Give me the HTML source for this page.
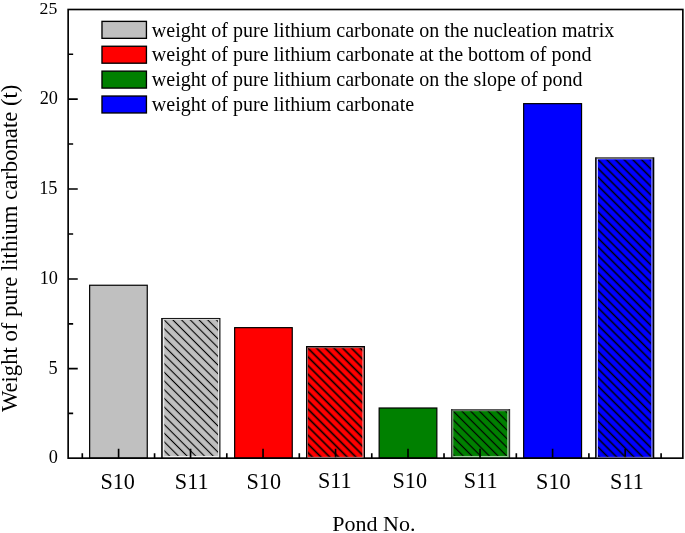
<!DOCTYPE html>
<html lang="en"><head><meta charset="utf-8"><title>Weight of pure lithium carbonate by pond</title>
<style>html,body{margin:0;padding:0;background:#fff}body{width:685px;height:533px;overflow:hidden}svg{display:block}text{font-family:"Liberation Serif","Times New Roman",serif;fill:#000}</style>
</head><body>
<svg width="685" height="533" viewBox="0 0 685 533">
<rect width="685" height="533" fill="#fff"/>
<defs>
<pattern id="h1" width="6.1589" height="12" patternUnits="userSpaceOnUse" patternTransform="translate(164.25 320.00) rotate(-45) translate(-3.0795 0)"><rect x="2.519" y="0" width="1.12" height="12" fill="#000"/></pattern>
<pattern id="h3" width="6.1589" height="12" patternUnits="userSpaceOnUse" patternTransform="translate(307.90 348.10) rotate(-45) translate(-3.0795 0)"><rect x="2.279" y="0" width="1.6" height="12" fill="#000"/></pattern>
<pattern id="h5" width="6.1589" height="12" patternUnits="userSpaceOnUse" patternTransform="translate(453.25 411.15) rotate(-45) translate(-3.0795 0)"><rect x="2.479" y="0" width="1.2" height="12" fill="#000"/></pattern>
<pattern id="h7" width="6.1589" height="12" patternUnits="userSpaceOnUse" patternTransform="translate(598.00 159.65) rotate(-45) translate(-3.0795 0)"><rect x="2.329" y="0" width="1.5" height="12" fill="#000"/></pattern>
</defs>
<g>
<rect x="89.65" y="285.25" width="57.60" height="172.90" fill="#c0c0c0" stroke="#000" stroke-width="1.2"/>
<rect x="162.75" y="319.10" width="56.55" height="139.05" fill="#c0c0c0"/>
<rect x="164.25" y="320.00" width="53.85" height="135.95" fill="url(#h1)"/>
<rect x="162.75" y="319.10" width="1.50" height="138.45" fill="#fff" fill-opacity="0.68"/>
<rect x="218.10" y="319.10" width="1.20" height="138.45" fill="#fff" fill-opacity="0.68"/>
<rect x="164.25" y="319.10" width="53.85" height="0.90" fill="#fff" fill-opacity="0.68"/>
<rect x="164.25" y="455.95" width="53.85" height="1.70" fill="#fff" fill-opacity="0.68"/>
<path d="M161.15 317.95H220.45V458.15H219.30V319.10H162.75V458.15H161.15Z" fill="#0a0a0a"/>
<rect x="162.75" y="317.95" width="56.55" height="1.15" fill="#1a1a1a"/>
<rect x="234.65" y="327.65" width="57.60" height="130.50" fill="#ff0000" stroke="#000" stroke-width="1.2"/>
<rect x="307.40" y="347.30" width="56.20" height="110.85" fill="#ff0000"/>
<rect x="307.90" y="348.10" width="54.60" height="109.05" fill="url(#h3)"/>
<rect x="307.40" y="347.30" width="0.50" height="110.25" fill="#fff" fill-opacity="0.7"/>
<rect x="362.50" y="347.30" width="1.10" height="110.25" fill="#fff" fill-opacity="0.7"/>
<rect x="307.90" y="347.30" width="54.60" height="0.80" fill="#fff" fill-opacity="0.7"/>
<rect x="307.90" y="457.15" width="54.60" height="0.50" fill="#fff" fill-opacity="0.7"/>
<path d="M306.00 346.00H365.00V458.15H363.60V347.30H307.40V458.15H306.00Z" fill="#000"/>
<rect x="307.40" y="346.00" width="56.20" height="1.3" fill="#000"/>
<rect x="379.15" y="408.00" width="57.70" height="50.15" fill="#008000" stroke="#000" stroke-width="1.2"/>
<rect x="452.45" y="410.50" width="56.20" height="47.65" fill="#008000"/>
<rect x="453.25" y="411.15" width="54.00" height="44.80" fill="url(#h5)"/>
<rect x="452.45" y="410.50" width="0.80" height="47.05" fill="#fff" fill-opacity="0.62"/>
<rect x="507.25" y="410.50" width="1.40" height="47.05" fill="#fff" fill-opacity="0.62"/>
<rect x="453.25" y="410.50" width="54.00" height="0.65" fill="#fff" fill-opacity="0.6"/>
<rect x="453.25" y="455.95" width="54.00" height="1.70" fill="#fff" fill-opacity="0.6"/>
<path d="M451.05 409.10H510.15V458.15H508.65V410.50H452.45V458.15H451.05Z" fill="#303030"/>
<rect x="452.45" y="409.10" width="56.20" height="1.4" fill="#606060"/>
<rect x="523.65" y="103.65" width="57.90" height="354.50" fill="#0000ff" stroke="#000" stroke-width="1.2"/>
<rect x="596.60" y="158.75" width="56.00" height="299.40" fill="#0000ff"/>
<rect x="598.00" y="159.65" width="53.10" height="297.50" fill="url(#h7)"/>
<rect x="596.60" y="158.75" width="1.40" height="298.80" fill="#fff" fill-opacity="0.75"/>
<rect x="651.10" y="158.75" width="1.50" height="298.80" fill="#fff" fill-opacity="0.4"/>
<rect x="598.00" y="158.75" width="53.10" height="0.90" fill="#fff" fill-opacity="0.3"/>
<rect x="598.00" y="457.15" width="53.10" height="0.50" fill="#fff" fill-opacity="0.3"/>
<path d="M595.10 157.35H654.30V458.15H652.60V158.75H596.60V458.15H595.10Z" fill="#000"/>
<rect x="596.60" y="157.35" width="56.00" height="1.4" fill="#808080"/>
</g>
<g stroke="#000" stroke-width="1.65" fill="none" stroke-linecap="butt">
<rect x="68.15" y="9.5" width="614.70" height="448.65"/>
<path d="M68.15 413.38h5.0 M68.15 368.60h9.6 M68.15 323.80h5.0 M68.15 279.00h9.6 M68.15 234.00h5.0 M68.15 189.00h9.6 M68.15 144.03h5.0 M68.15 99.05h9.6 M68.15 54.27h5.0 M118.60 458.15v-9.3 M190.55 458.15v-9.3 M263.05 458.15v-9.3 M335.55 458.15v-9.3 M408.00 458.15v-9.3 M480.05 458.15v-9.3 M552.60 458.15v-9.3 M625.20 458.15v-9.3 M82.30 458.15v-4.9 M154.57 458.15v-4.9 M226.80 458.15v-4.9 M299.30 458.15v-4.9 M371.77 458.15v-4.9 M444.02 458.15v-4.9 M516.33 458.15v-4.9 M588.90 458.15v-4.9 M661.10 458.15v-4.9"/>
</g>
<path d="M307.40 457.3H363.60" stroke="#fff" stroke-opacity="0.5" stroke-width="0.8" fill="none"/>
<path d="M596.50 457.3H652.90" stroke="#fff" stroke-opacity="0.5" stroke-width="0.8" fill="none"/>
<g font-size="18.3" text-anchor="end">
<text x="58.0" y="463.4">0</text>
<text x="57.6" y="373.8">5</text>
<text x="58.0" y="283.9">10</text>
<text x="57.5" y="193.9">15</text>
<text x="58.0" y="104.2">20</text>
<text x="57.3" y="13.95" font-size="17.7">25</text>
</g>
<g font-size="22.2">
<text x="100.4" y="488.6">S10</text>
<text x="174.8" y="488.6">S11</text>
<text x="246.5" y="488.6">S10</text>
<text x="317.9" y="487.8">S11</text>
<text x="392.5" y="487.8">S10</text>
<text x="463.8" y="487.8">S11</text>
<text x="536.1" y="488.6">S10</text>
<text x="610.1" y="488.6">S11</text>
</g>
<text x="332.3" y="530.9" font-size="22">Pond No.</text>
<text transform="translate(16.8 412.1) rotate(-90)" font-size="22.68">Weight of pure lithium carbonate (t)</text>
<g font-size="20.02">
<rect x="101.98" y="21.38" width="44.45" height="16.95" fill="#c0c0c0" stroke="#000" stroke-width="1.35"/>
<text x="151.8" y="36.55">weight of pure lithium carbonate on the nucleation matrix</text>
<rect x="101.98" y="46.25" width="44.45" height="16.95" fill="#ff0000" stroke="#000" stroke-width="1.35"/>
<text x="151.8" y="61.43">weight of pure lithium carbonate at the bottom of pond</text>
<rect x="101.98" y="71.13" width="44.45" height="16.95" fill="#008000" stroke="#000" stroke-width="1.35"/>
<text x="151.8" y="86.31">weight of pure lithium carbonate on the slope of pond</text>
<rect x="101.98" y="96.02" width="44.45" height="16.95" fill="#0000ff" stroke="#000" stroke-width="1.35"/>
<text x="151.8" y="111.19">weight of pure lithium carbonate</text>
</g>
</svg>
</body></html>
